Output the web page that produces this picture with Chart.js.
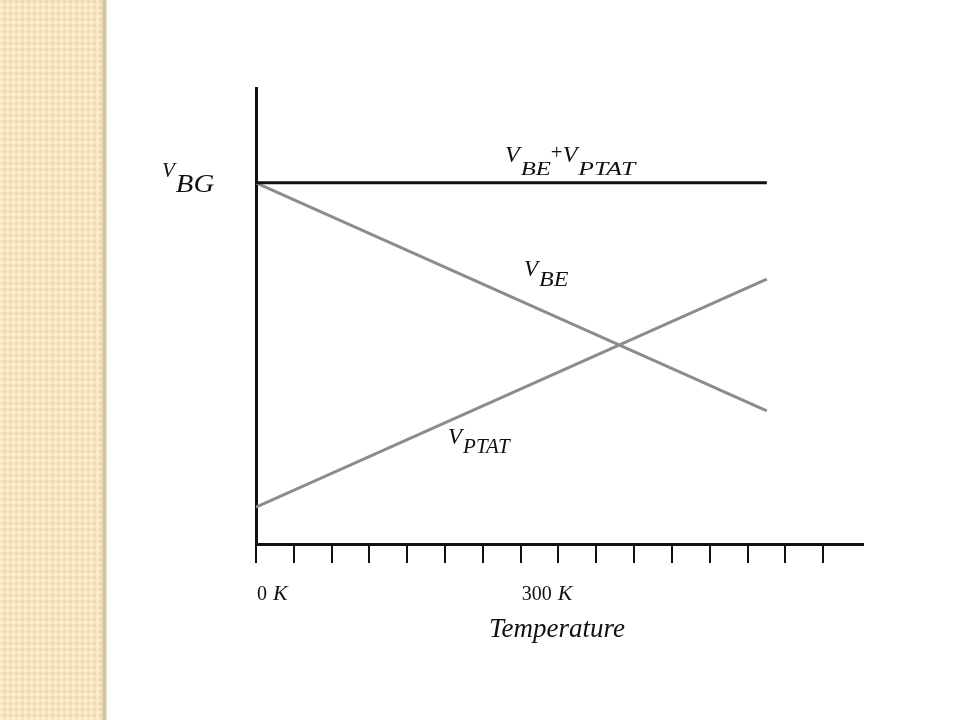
<!DOCTYPE html>
<html>
<head>
<meta charset="utf-8">
<script src="https://cdn.jsdelivr.net/npm/chart.js@4.4.1/dist/chart.umd.min.js"></script>
<style>
  html, body { margin: 0; padding: 0; background: #fff; }
  #page { position: relative; width: 960px; height: 720px; overflow: hidden; }
  #stripe {
    position: absolute; left: 0; top: 0; width: 102px; height: 720px;
    background-color: #f1d9a6;
    background-image:
      repeating-linear-gradient(0deg, rgba(255,246,222,0.45) 0 3px, transparent 3px 6px),
      repeating-linear-gradient(90deg, rgba(255,246,222,0.45) 0 3px, transparent 3px 6px);
  }
  #edge {
    position: absolute; left: 102px; top: 0; width: 5px; height: 720px;
    background: linear-gradient(90deg, #e2d0a4, #cbc1a9 60%, #ece8df);
  }
  #wrap { position: absolute; left: 0; top: 0; width: 960px; height: 720px; }
</style>
</head>
<body>
<div id="page">
  <div id="stripe"></div>
  <div id="edge"></div>
  <div id="wrap"><canvas id="myChart" width="960" height="720"></canvas></div>
</div>
<script>
"use strict"
// temperature in K, voltages in arbitrary units (0..100)
let tempK = [0, 579];
let vBG = [79.2, 79.2];
let vBE = [79.2, 29.2];
let vPTAT = [8.1, 58.1];
let tickStep = 300 / 7;
let tickCount = 16;
let tickLabels = ['0', '300'];
let tickLabelValues = [0, 300];
let xMax = 688;

let serif = '"Liberation Serif", "DejaVu Serif", serif';

function pts(xs, ys) {
    let out = [];
    for (let i = 0; i < xs.length; i++) {
        out.push({ x: xs[i], y: ys[i] });
    }
    return out;
}

// text stretched sideways by sx, returns end x
function wideText(ctx, text, x, y, sx) {
    ctx.save();
    ctx.translate(x, y);
    ctx.scale(sx, 1);
    ctx.fillText(text, 0, 0);
    ctx.restore();
    return x + ctx.measureText(text).width * sx;
}

// V with a subscript, returns end x
function drawSub(ctx, x, y, main, sub, mainSize, subSize, dy, sx) {
    ctx.font = 'italic ' + mainSize + 'px ' + serif;
    x = wideText(ctx, main, x, y, 1);
    ctx.font = 'italic ' + subSize + 'px ' + serif;
    return wideText(ctx, sub, x + 1, y + dy, sx);
}

let labelsPlugin = {
    id: 'labels',
    afterDraw(chart) {
        let ctx = chart.ctx;
        let xs = chart.scales.x;
        let ys = chart.scales.y;
        ctx.save();
        ctx.fillStyle = '#111';
        ctx.textBaseline = 'alphabetic';
        ctx.textAlign = 'left';

        // V_BG left of the axis
        let yBG = ys.getPixelForValue(vBG[0]);
        drawSub(ctx, 162, yBG - 6, 'V', 'BG', 21, 25, 15, 1.15);

        // V_BE + V_PTAT above the top line
        let x = drawSub(ctx, 505, yBG - 21, 'V', 'BE', 24, 19, 13, 1.3);
        ctx.font = '21px ' + serif;
        x = wideText(ctx, '+', x, yBG - 24, 1);
        drawSub(ctx, x, yBG - 21, 'V', 'PTAT', 24, 19, 13, 1.35);

        // V_BE beside its line
        drawSub(ctx, 524, 276, 'V', 'BE', 23, 20, 10, 1.2);
        // V_PTAT under its line
        drawSub(ctx, 448, 444, 'V', 'PTAT', 23, 20, 9, 1.05);

        // tick labels
        for (let i = 0; i < tickLabels.length; i++) {
            let px = xs.getPixelForValue(tickLabelValues[i]);
            ctx.font = '20px ' + serif;
            ctx.fillText(tickLabels[i], px + 1, 600);
            let w = ctx.measureText(tickLabels[i]).width;
            ctx.font = 'italic 22px ' + serif;
            ctx.fillText('K', px + w + 7, 600);
        }

        // axis title
        ctx.font = 'italic 27px ' + serif;
        ctx.textAlign = 'center';
        ctx.fillText('Temperature', 557, 637);
        ctx.restore();
    }
};

let ctx = document.getElementById('myChart').getContext('2d');
let myChart = new Chart(ctx, {
    type: 'line',
    data: {
        datasets: [{
            label: 'VBE+VPTAT',
            data: pts(tempK, vBG),
            borderColor: '#111',
            borderWidth: 3
        }, {
            label: 'VBE',
            data: pts(tempK, vBE),
            borderColor: '#8c8c8c',
            borderWidth: 3
        }, {
            label: 'VPTAT',
            data: pts(tempK, vPTAT),
            borderColor: '#8c8c8c',
            borderWidth: 3
        }]
    },
    plugins: [labelsPlugin],
    options: {
        responsive: false,
        animation: false,
        events: [],
        elements: { point: { radius: 0 }, line: { tension: 0 } },
        layout: { padding: { left: 256, top: 88, right: 97, bottom: 157 } },
        plugins: { legend: { display: false }, tooltip: { enabled: false } },
        scales: {
            x: {
                type: 'linear',
                min: 0,
                max: xMax,
                afterBuildTicks(axis) {
                    let t = [];
                    for (let i = 0; i < tickCount; i++) {
                        t.push({ value: i * tickStep });
                    }
                    axis.ticks = t;
                },
                ticks: { display: false },
                grid: { drawOnChartArea: false, drawTicks: true, tickLength: 19, color: '#111', lineWidth: 2 },
                border: { display: true, color: '#111', width: 3 }
            },
            y: {
                min: 0,
                max: 100,
                ticks: { display: false },
                grid: { display: false, drawTicks: false },
                border: { display: true, color: '#111', width: 3 }
            }
        }
    }
});
</script>
</body>
</html>
